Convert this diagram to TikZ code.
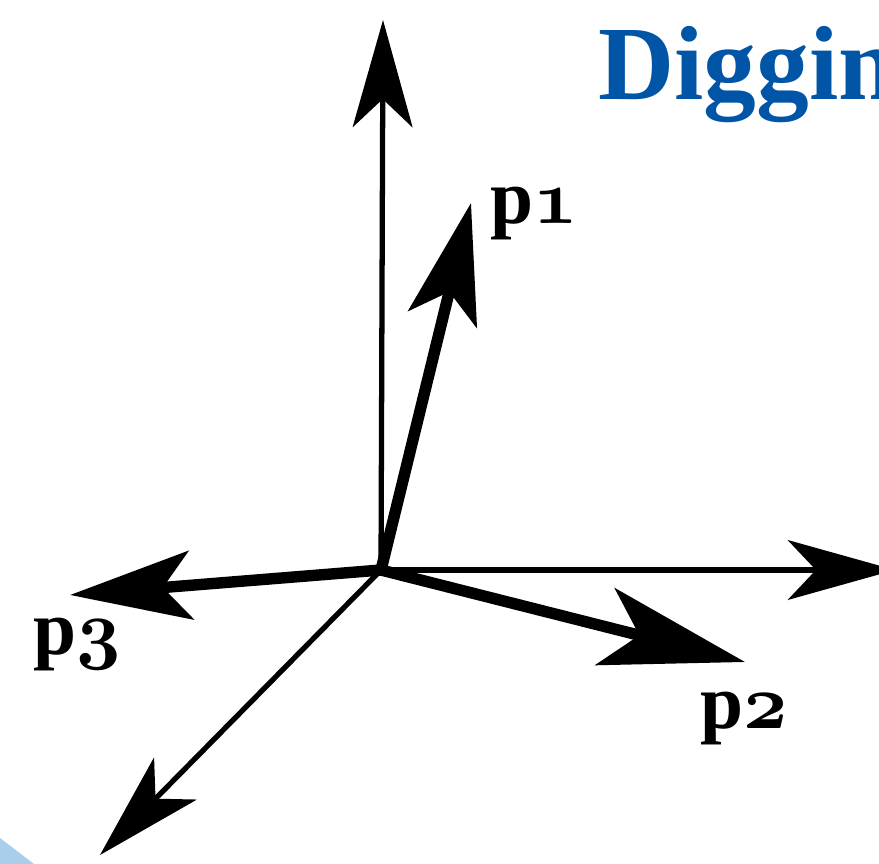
\documentclass[tikz,border=0pt]{standalone}
\usepackage{fontspec}
\setmainfont{Liberation Serif}
\usetikzlibrary{arrows.meta}
\definecolor{titleblue}{RGB}{0,85,166}
\definecolor{cornerblue}{RGB}{168,206,236}
\DeclareFontFamily{OML}{osbold}{\skewchar\font=127}
\DeclareFontShape{OML}{osbold}{m}{n}{<-> cmmib10}{}
\newcommand{\osdigit}[1]{{\usefont{OML}{osbold}{m}{n}#1}}

\begin{document}
\begin{tikzpicture}[
  x=0.02cm, y=-0.02cm,
  axis/.style={line width=3pt, -{Stealth[length=61pt, width=34pt, inset=16pt]}},
  vec/.style={line width=6.5pt},
  vlabel/.style={font=\fontsize{44}{48}\selectfont\bfseries, inner sep=0pt, anchor=base west}
]
\clip (0,0) rectangle (879,864);
\fill[cornerblue] (0,838) -- (34,864) -- (0,864) -- cycle;
% axes
\coordinate (o) at (381,570);
\coordinate (up) at (383,20);
\coordinate (right) at (895,570);
\coordinate (down) at (100,855);
\draw[axis] (o) -- (up);
\draw[axis] (o) -- (right);
\draw[axis] (o) -- (down);
% vectors
\coordinate (t1) at (471,203);
\coordinate (t2) at (745,662);
\coordinate (t3) at (70,595);
\draw[vec, -{Stealth[length=68pt, width=40pt, inset=16pt]}] (o) -- (t1);
\draw[vec, -{Stealth[length=82pt, width=45pt, inset=20pt]}] (o) -- (t2);
\draw[vec, -{Stealth[length=69pt, width=39pt, inset=16pt]}] (o) -- (t3);
\node[vlabel] (p1) at (490,224) {p\osdigit{1}};
\node[vlabel] (p2) at (700,728) {p\osdigit{2}};
\node[vlabel] (p3) at (33,654) {p\osdigit{3}};
\node[font=\fontsize{60}{64}\selectfont\bfseries, text=titleblue, inner sep=0pt, anchor=base west] (title) at (598,100) {Diggin};
\end{tikzpicture}
\end{document}
